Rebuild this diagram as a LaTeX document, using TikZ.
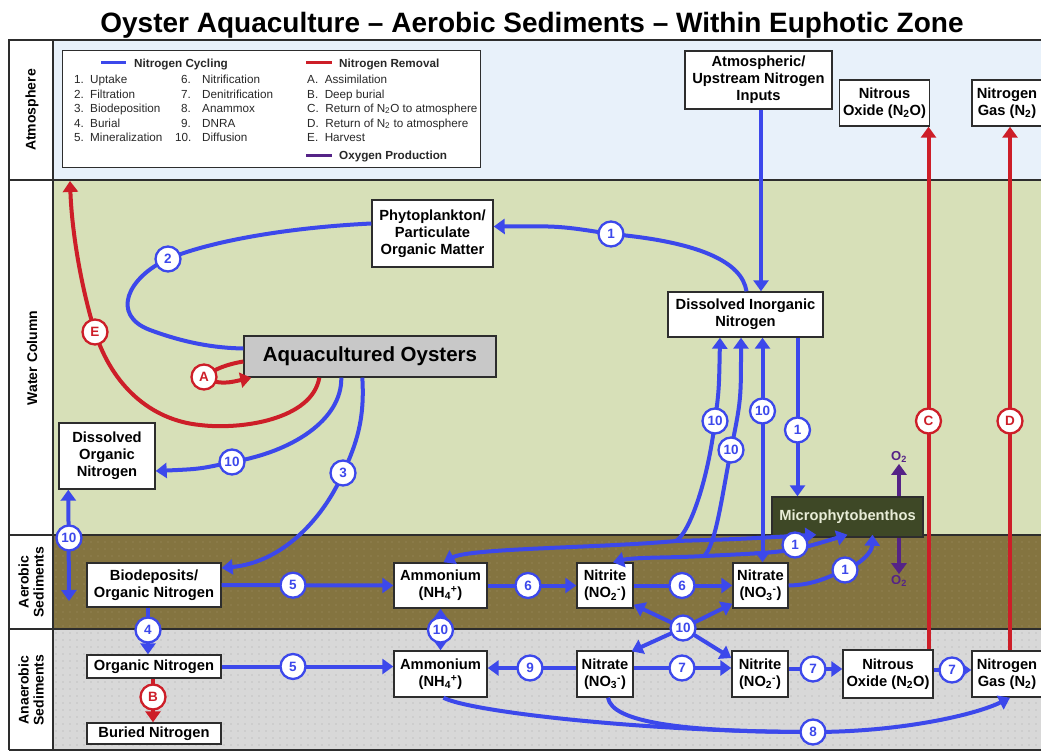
\documentclass[tikz,border=0pt]{standalone}
\usepackage{fontspec}
\setmainfont{Liberation Sans}
\usetikzlibrary{arrows.meta,calc,patterns.meta}
\definecolor{nblue}{RGB}{60,72,235}
\definecolor{nred}{RGB}{205,30,40}
\definecolor{npurp}{RGB}{85,35,135}
\definecolor{atmbg}{RGB}{232,241,250}
\definecolor{wcbg}{RGB}{215,224,184}
\definecolor{aebg}{RGB}{132,116,64}
\definecolor{aedot}{RGB}{160,146,100}
\definecolor{anbg}{RGB}{216,216,216}
\definecolor{andot}{RGB}{172,172,172}
\definecolor{mpbfill}{RGB}{62,72,38}
\definecolor{mpbtext}{RGB}{232,236,215}
\definecolor{oysfill}{RGB}{200,200,200}
\definecolor{framec}{RGB}{45,45,45}
\definecolor{legtext}{RGB}{40,40,40}
\tikzset{
  box/.style={draw=framec, line width=1.4pt, fill=white, align=center, inner sep=1pt,
    font=\fontsize{14.7}{17}\selectfont\bfseries},
  bcirc/.style={circle, draw=nblue, line width=2.3pt, fill=white, minimum size=25pt,
    inner sep=0pt, text=nblue, font=\fontsize{13.5}{13.5}\selectfont\bfseries},
  rcirc/.style={bcirc, draw=nred, text=nred},
  bline/.style={draw=nblue, line width=4pt},
  rline/.style={draw=nred, line width=4pt},
  pline/.style={draw=npurp, line width=4pt},
  o2lbl/.style={text=npurp, inner sep=1pt, font=\fontsize{13}{13}\selectfont\bfseries},
  sidelbl/.style={rotate=90, align=center, font=\fontsize{14}{15}\selectfont\bfseries},
  legtxt/.style={anchor=base west, inner sep=0pt, text=legtext, font=\fontsize{11.7}{13}\selectfont},
  leghead/.style={legtxt, font=\fontsize{11.7}{13}\selectfont\bfseries},
}
\begin{document}
\begin{tikzpicture}[x=1pt,y=-1pt,>={Triangle[width=15pt,length=11pt]}]
\useasboundingbox (0,0) rectangle (1041,752);
% backgrounds
\fill[white] (0,0) rectangle (1041,752);
\fill[atmbg] (53,40) rectangle (1041,180);
\fill[wcbg] (53,180) rectangle (1041,535);
\fill[aebg] (53,535) rectangle (1041,629);
\fill[pattern={Dots[radius=0.55pt,distance=7pt]}, pattern color=aedot] (53,535) rectangle (1041,629);
\fill[anbg] (53,629) rectangle (1041,750);
\fill[pattern={Dots[radius=0.55pt,distance=7pt]}, pattern color=andot] (53,629) rectangle (1041,750);
\draw[framec, line width=1.3pt] (9,750) -- (9,40) -- (1045,40);
\draw[framec, line width=1.3pt] (53,40) -- (53,750);
\draw[framec, line width=1.3pt] (9,180) -- (1045,180);
\draw[framec, line width=1.3pt] (9,535) -- (1045,535);
\draw[framec, line width=1.3pt] (9,629) -- (1045,629);
\draw[framec, line width=1.3pt] (9,750) -- (1045,750);
% title and side labels
\node[font=\fontsize{28}{32}\selectfont\bfseries, anchor=base, inner sep=0pt] (title) at (532,33) {Oyster Aquaculture – Aerobic Sediments – Within Euphotic Zone};
\node[sidelbl] (lblatm) at (32,110) {Atmosphere};
\node[sidelbl] (lblwc) at (32,358) {Water Column};
\node[sidelbl] (lblae) at (31,582) {Aerobic\\Sediments};
\node[sidelbl] (lblan) at (31,690) {Anaerobic\\Sediments};
% legend
\node[draw=framec, line width=1.3pt, fill=white, minimum width=418pt, minimum height=117pt, anchor=north west, inner sep=0pt] (legend) at (62,50) {};
\draw[nblue, line width=3pt] (101,63) -- (126,63);
\node[leghead] (lh1) at (134,67) {Nitrogen Cycling};
\draw[nred, line width=3pt] (306,63) -- (332,63);
\node[leghead] (lh2) at (339,67) {Nitrogen Removal};
\draw[npurp, line width=3pt] (306,155) -- (332,155);
\node[leghead] (lh3) at (339,159) {Oxygen Production};
\node[legtxt] at (74,84) {1.};  \node[legtxt] at (90,84) {Uptake};
\node[legtxt] at (74,98) {2.};  \node[legtxt] at (90,98) {Filtration};
\node[legtxt] at (74,112) {3.}; \node[legtxt] at (90,112) {Biodeposition};
\node[legtxt] at (74,127) {4.}; \node[legtxt] at (90,127) {Burial};
\node[legtxt] at (74,141) {5.}; \node[legtxt] at (90,141) {Mineralization};
\node[legtxt] at (181,84) {6.};  \node[legtxt] at (202,84) {Nitrification};
\node[legtxt] at (181,98) {7.};  \node[legtxt] at (202,98) {Denitrification};
\node[legtxt] at (181,112) {8.}; \node[legtxt] at (202,112) {Anammox};
\node[legtxt] at (181,127) {9.}; \node[legtxt] at (202,127) {DNRA};
\node[legtxt] at (175,141) {10.}; \node[legtxt] at (202,141) {Diffusion};
\node[legtxt] at (307,84) {A.\ \ Assimilation};
\node[legtxt] at (307,98) {B.\ \ Deep burial};
\node[legtxt] at (307,112) {C.\ \ Return of N\textsubscript{2}O to atmosphere};
\node[legtxt] at (307,127) {D.\ \ Return of N\textsubscript{2} to atmosphere};
\node[legtxt] at (307,141) {E.\ \ Harvest};
% boxes
\node[box, minimum width=147pt, minimum height=58pt] (atm) at (758.5,80) {Atmospheric/\\Upstream Nitrogen\\Inputs};
\node[box, minimum width=90pt, minimum height=46pt] (n2oA) at (884.5,103) {Nitrous\\Oxide (N\textsubscript{2}O)};
\node[box, minimum width=70pt, minimum height=46pt] (n2A) at (1007,103) {Nitrogen\\Gas (N\textsubscript{2})};
\node[box, minimum width=121pt, minimum height=67pt] (phyto) at (432.5,233.5) {Phytoplankton/\\Particulate\\Organic Matter};
\node[box, minimum width=155pt, minimum height=45pt] (din) at (745.5,314.5) {Dissolved Inorganic\\Nitrogen};
\node[box, fill=oysfill, minimum width=252pt, minimum height=41pt, font=\fontsize{20.5}{24}\selectfont\bfseries] (oys) at (370,356.5) {Aquacultured Oysters};
\node[box, minimum width=96pt, minimum height=66pt] (don) at (107,456) {Dissolved\\Organic\\Nitrogen};
\node[box, fill=mpbfill, text=mpbtext, minimum width=151pt, minimum height=40pt] (mpb) at (847.5,517) {Microphytobenthos};
\node[box, minimum width=134pt, minimum height=44pt] (bio) at (154,585) {Biodeposits/\\Organic Nitrogen};
\node[box, minimum width=93pt, minimum height=45pt] (amA) at (440.5,585.5) {Ammonium\\(NH\textsubscript{4}\textsuperscript{+})};
\node[box, minimum width=56pt, minimum height=45pt] (nitriteA) at (605,585.5) {Nitrite\\(NO\textsubscript{2}\textsuperscript{-})};
\node[box, minimum width=55pt, minimum height=45pt] (nitrateA) at (760.5,585.5) {Nitrate\\(NO\textsubscript{3}\textsuperscript{-})};
\node[box, minimum width=134pt, minimum height=23pt] (orgN) at (154,666.5) {Organic Nitrogen};
\node[box, minimum width=93pt, minimum height=46pt] (amN) at (440.5,674) {Ammonium\\(NH\textsubscript{4}\textsuperscript{+})};
\node[box, minimum width=56pt, minimum height=46pt] (nitrateN) at (605,674) {Nitrate\\(NO\textsubscript{3}\textsuperscript{-})};
\node[box, minimum width=56pt, minimum height=46pt] (nitriteN) at (760,674) {Nitrite\\(NO\textsubscript{2}\textsuperscript{-})};
\node[box, minimum width=90pt, minimum height=48pt] (n2oN) at (888,674) {Nitrous\\Oxide (N\textsubscript{2}O)};
\node[box, minimum width=70pt, minimum height=46pt] (n2N) at (1007,674) {Nitrogen\\Gas (N\textsubscript{2})};
\node[box, minimum width=134pt, minimum height=21pt] (buried) at (154,733.5) {Buried Nitrogen};
\node[o2lbl] (o2up) at (899,457) {O\textsubscript{2}};
\node[o2lbl] (o2dn) at (899,581) {O\textsubscript{2}};
% coordinates of labels / junctions
\coordinate (k1up) at (611,234);
\coordinate (k2) at (168,259);
\coordinate (kE) at (95,332);
\coordinate (kA) at (204,377);
\coordinate (k10don) at (232,462);
\coordinate (k3) at (343,473);
\coordinate (k10left) at (69,538);
\coordinate (k10a) at (715,421);
\coordinate (k10b) at (731,450);
\coordinate (k10c) at (762.5,411);
\coordinate (k1d) at (797.5,430);
\coordinate (kC) at (928.5,421);
\coordinate (kD) at (1010,421);
\coordinate (k1e) at (795,545);
\coordinate (k1f) at (845,570);
\coordinate (k5a) at (293,585.2);
\coordinate (k6a) at (528,585.5);
\coordinate (k6b) at (682,585.5);
\coordinate (k4) at (148,630);
\coordinate (k10am) at (440.5,630);
\coordinate (k10x) at (683,628);
\coordinate (kB) at (153,697);
\coordinate (k5b) at (293,666.5);
\coordinate (k9) at (530,668);
\coordinate (k7a) at (682,668);
\coordinate (k7b) at (813,669);
\coordinate (k7c) at (952,670);
\coordinate (k8) at (813,732);
\coordinate (harvtop) at (70,181);
\coordinate (leftbot) at (69,601);
\coordinate (j1) at (676,541);
\coordinate (j2) at (704,556);
% connectors: water column
\draw[bline,->] ($(atm.south)+(2.5,0)$) -- ($(din.north)+(15.5,0)$);
\draw[bline,->] ($(din.north)+(1,0)$) .. controls (742,262) and (700,242) .. (k1up) .. controls (560,226) .. ($(phyto.east)+(0,-7)$);
\draw[bline] ($(phyto.west)+(0,-10)$) .. controls (280,228) and (205,243) .. (k2) .. controls (128,277) and (110,315) .. (150,330) .. controls (185,343) and (215,348) .. ($(oys.west)+(0,-8)$);
\draw[rline,->] ($(oys.south west)+(76,0)$) .. controls (312,420) and (240,430) .. (200,425) .. controls (150,420) and (112,385) .. (kE) .. controls (82,290) and (72,235) .. (harvtop);
\draw[rline] ($(oys.west)+(0,5)$) .. controls (228,364) and (214,369) .. (kA);
\draw[rline,->] (kA) .. controls (218,386) and (232,382) .. ($(oys.south west)+(8,0)$);
\draw[bline,->] ($(oys.south west)+(98,0)$) .. controls (342,420) and (292,452) .. (k10don) .. controls (200,469) .. ($(don.east)+(0,15)$);
\draw[bline,->] ($(oys.south west)+(119,0)$) .. controls (365,420) and (356,445) .. (k3) .. controls (325,515) and (285,562) .. ($(bio.east)+(0,-17)$);
\draw[bline,<->] ($(don.south west)+(10,0)$) -- (leftbot);
\draw[bline,<->] ($(din.south)+(-25.5,0)$) .. controls (719,390) .. (k10a) .. controls (708,480) and (690,532) .. (j1) .. controls (600,548) and (470,548) .. ($(amA.north)+(3,0)$);
\draw[bline,->] (j1) .. controls (740,539) .. ($(mpb.south west)+(45,-3)$);
\draw[bline,<->] ($(din.south)+(-4.5,0)$) .. controls (741,400) .. (k10b) .. controls (722,495) and (716,545) .. (j2) .. controls (670,558) and (635,557) .. ($(nitriteA.north)+(8,0)$);
\draw[bline,->] (j2) .. controls (790,552) .. ($(mpb.south)+(0,-3)$);
\draw[bline,<->] ($(din.south)+(17,0)$) -- ($(nitrateA.north)+(2,0)$);
\draw[bline,->] ($(din.south)+(52,0)$) -- ($(mpb.north)+(-50,0)$);
\draw[bline,->] (nitrateA.east) .. controls (815,585) and (830,576) .. (k1f) .. controls (862,563) and (872,552) .. ($(mpb.south)+(25,-3)$);
\draw[pline,->] (mpb.north -| o2up.south) -- (o2up.south);
\draw[pline,->] (mpb.south -| o2dn.north) -- (o2dn.north);
\draw[rline,->] ($(n2oN.north)+(40.5,0)$) -- ($(n2oA.south)+(44,0)$);
\draw[rline,->] ($(n2N.north)+(3,0)$) -- ($(n2A.south)+(3,0)$);
% sediments
\draw[bline,->] (bio.east) -- (amA.west);
\draw[bline,->] (amA.east) -- (nitriteA.west);
\draw[bline,->] (nitriteA.east) -- (nitrateA.west);
\draw[bline,->] ($(bio.south)+(-6,0)$) -- ($(orgN.north)+(-6,0)$);
\draw[bline,<->] (amA.south) -- (amN.north);
\draw[bline,->] (k10x) -- ($(nitriteA.south east)+(0,-4)$);
\draw[bline,->] (k10x) -- ($(nitrateA.south west)+(0,-5)$);
\draw[bline,->] (k10x) -- ($(nitrateN.north east)+(-2,1)$);
\draw[bline,->] (k10x) -- ($(nitriteN.west)+(0,-16)$);
\draw[bline,->] (orgN.east) -- (orgN.east -| amN.west);
\draw[bline,->] ($(nitrateN.west)+(0,-6)$) -- ($(amN.east)+(0,-6)$);
\draw[bline,->] ($(nitrateN.east)+(0,-6)$) -- ($(nitriteN.west)+(0,-6)$);
\draw[bline,->] ($(nitriteN.east)+(0,-5)$) -- ($(n2oN.west)+(0,-5)$);
\draw[bline,->] ($(n2oN.east)+(0,-4)$) -- ($(n2N.west)+(0,-4)$);
\draw[rline,->] ($(orgN.south)+(-1,0)$) -- ($(buried.north)+(-1,0)$);
\draw[bline,->] ($(amN.south)+(3,0)$) .. controls (470,712) and (650,732) .. (k8) .. controls (900,732) and (975,715) .. ($(n2N.south)+(3,0)$);
\draw[bline] ($(nitrateN.south)+(3,0)$) .. controls (612,722) and (680,732) .. (k8);
% label circles
\node[bcirc] (c1up) at (k1up) {1};
\node[bcirc] (c2) at (k2) {2};
\node[rcirc] (cE) at (kE) {E};
\node[rcirc] (cA) at (kA) {A};
\node[bcirc] (c10don) at (k10don) {10};
\node[bcirc] (c3) at (k3) {3};
\node[bcirc] (c10left) at (k10left) {10};
\node[bcirc] (c10a) at (k10a) {10};
\node[bcirc] (c10b) at (k10b) {10};
\node[bcirc] (c10c) at (k10c) {10};
\node[bcirc] (c1d) at (k1d) {1};
\node[rcirc] (cC) at (kC) {C};
\node[rcirc] (cD) at (kD) {D};
\node[bcirc] (c1e) at (k1e) {1};
\node[bcirc] (c1f) at (k1f) {1};
\node[bcirc] (c5a) at (k5a) {5};
\node[bcirc] (c6a) at (k6a) {6};
\node[bcirc] (c6b) at (k6b) {6};
\node[bcirc] (c4) at (k4) {4};
\node[bcirc] (c10am) at (k10am) {10};
\node[bcirc] (c10x) at (k10x) {10};
\node[rcirc] (cB) at (kB) {B};
\node[bcirc] (c5b) at (k5b) {5};
\node[bcirc] (c9) at (k9) {9};
\node[bcirc] (c7a) at (k7a) {7};
\node[bcirc] (c7b) at (k7b) {7};
\node[bcirc] (c7c) at (k7c) {7};
\node[bcirc] (c8) at (k8) {8};
\end{tikzpicture}
\end{document}
